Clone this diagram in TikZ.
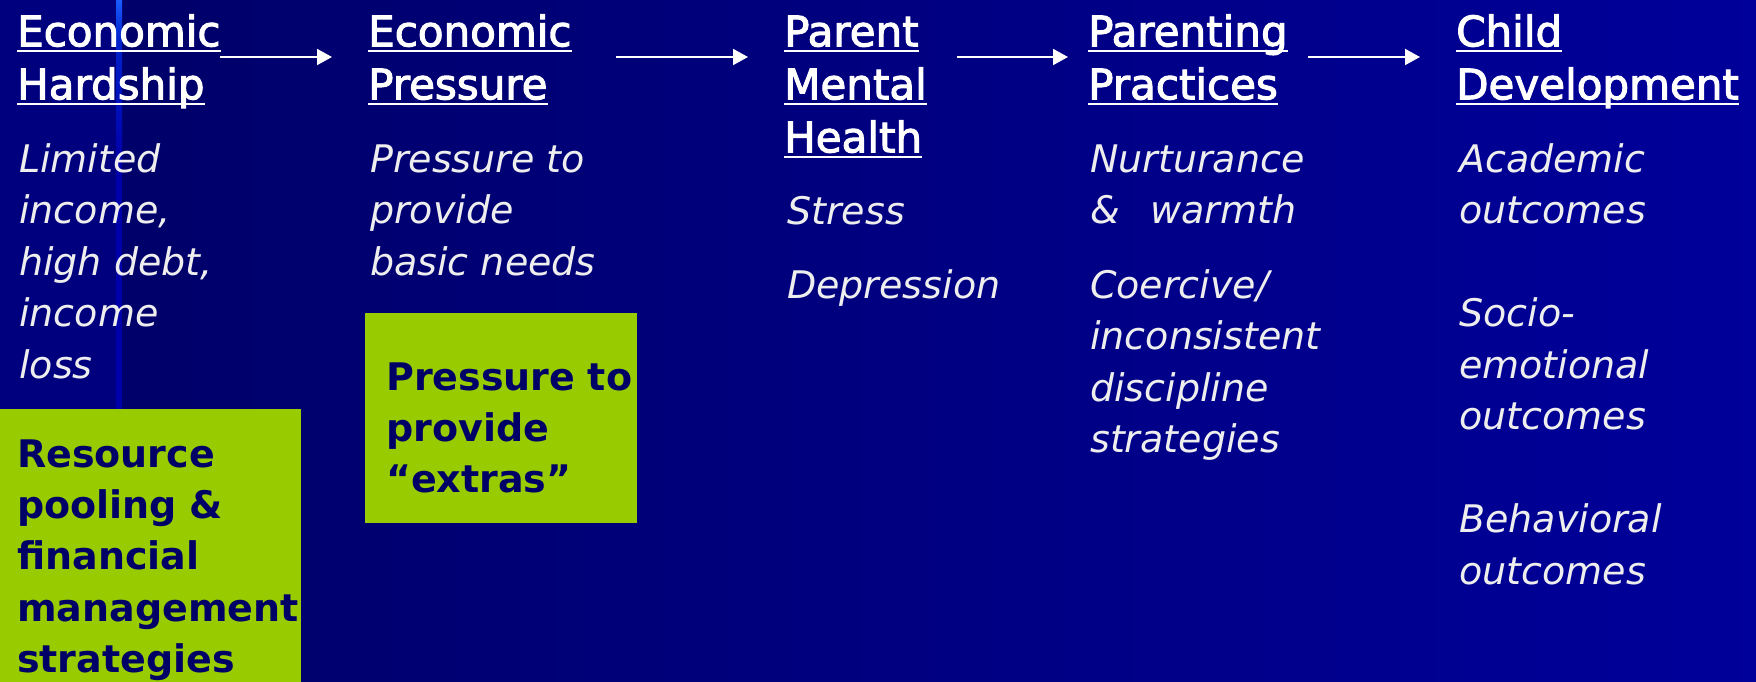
\documentclass[tikz,border=0pt]{standalone}
\usepackage{fontspec}
\setmainfont{DejaVu Sans}
\newfontfamily\stagefont[FakeBold=2.5]{DejaVu Sans}
\usetikzlibrary{arrows.meta}

\definecolor{bgleft}{HTML}{000066}
\definecolor{bgright}{HTML}{00009A}
\definecolor{bgstrip}{HTML}{00007E}
\definecolor{stripline}{HTML}{1A5CFF}
\definecolor{stripmid}{HTML}{0022CC}
\definecolor{stripdim}{HTML}{0000AA}
\definecolor{boxgreen}{HTML}{99CC00}
\definecolor{boxink}{HTML}{000066}
\definecolor{itext}{HTML}{EEEEEE}

% underlined heading word, rule at a fixed depth
\newlength\hdwd
\newcommand\hdul[1]{\settowidth\hdwd{#1}\rlap{\rule[-6pt]{\hdwd}{2.5pt}}#1}

\tikzset{
  stage/.style={anchor=north west, inner sep=0pt, align=left, text=white,
    font=\stagefont\fontsize{42}{53}\selectfont},
  detail/.style={anchor=north west, inner sep=0pt, align=left, text=itext,
    font=\fontsize{38}{51.5}\selectfont\itshape},
  greenbox/.style={anchor=north west, fill=boxgreen, align=left, text=boxink,
    font=\fontsize{38}{51.3}\selectfont\bfseries},
  flow/.style={draw=white, line width=2pt, -{Triangle[length=15pt,width=16pt]}}
}

\begin{document}
\begin{tikzpicture}[x=1pt, y=-1pt]

        % background
        \useasboundingbox (0,0) rectangle (1756,682);
        \clip (0,0) rectangle (1756,682);
        \shade[left color=bgleft, right color=bgright] (0,0) rectangle (1756,682);
        \fill[bgstrip] (0,0) rectangle (116,409);
        \shade[top color=stripline, bottom color=stripmid] (116,0) rectangle (122,40);
        \shade[top color=stripmid, bottom color=stripdim] (116,40) rectangle (122,160);
        \fill[stripdim] (116,160) rectangle (122,409);

        % headings
        \node (hard) [stage] at (17,9)
            {\strut\hdul{Economic}\\\hdul{Hardship}};
        \node (press) [stage] at (368,9)
            {\strut\hdul{Economic}\\\hdul{Pressure}};
        \node (mental) [stage] at (784,9)
            {\strut\hdul{Parent}\\\hdul{Mental}\\\hdul{Health}};
        \node (parenting) [stage] at (1088,9)
            {\strut\hdul{Parenting}\\\hdul{Practices}};
        \node (child) [stage] at (1456,9)
            {\strut\hdul{Child}\\\hdul{Development}};

        % details
        \node (hardT) [detail] at (19,136)
            {\strut Limited\\income,\\high debt,\\income\\loss};
        \node (pressT) [detail] at (370,136)
            {\strut Pressure to\\provide\\basic needs};
        \node (mentalT) [detail] at (787,188)
            {\strut Stress\\[23pt]Depression};
        \node (parentingT) [detail] at (1090,136)
            {\strut Nurturance\\\& \ \,warmth\\[23pt]Coercive/\\inconsistent\\discipline\\strategies};
        \node (childT) [detail] at (1459,136)
            {\strut Academic\\outcomes\\[51.5pt]Socio-\\emotional\\outcomes\\[51.5pt]Behavioral\\outcomes};

        % green boxes
        \node (poolbox) [greenbox, text width=267pt, inner xsep=17pt, inner ysep=22pt] at (0,409)
            {\strut Resource\\pooling \&\\financial\\\mbox{management}\\strategies};
        \node (extrabox) [greenbox, text width=230pt, inner xsep=21pt, inner ysep=29.6pt] at (365,313)
            {\rule{0pt}{47.3pt}\mbox{Pressure to}\\provide\\``extras''};

        % arrows
        \coordinate (lev) at (0,57);
        \draw[flow, shorten <=-1pt, shorten >=36pt] (hard.east |- lev) -- (press.west |- lev);
        \draw[flow, shorten <=44pt, shorten >=36pt] (press.east |- lev) -- (mental.west |- lev);
        \draw[flow, shorten <=30pt, shorten >=20pt] (mental.east |- lev) -- (parenting.west |- lev);
        \draw[flow, shorten <=20pt, shorten >=36pt] (parenting.east |- lev) -- (child.west |- lev);

    \end{tikzpicture}
\end{document}
